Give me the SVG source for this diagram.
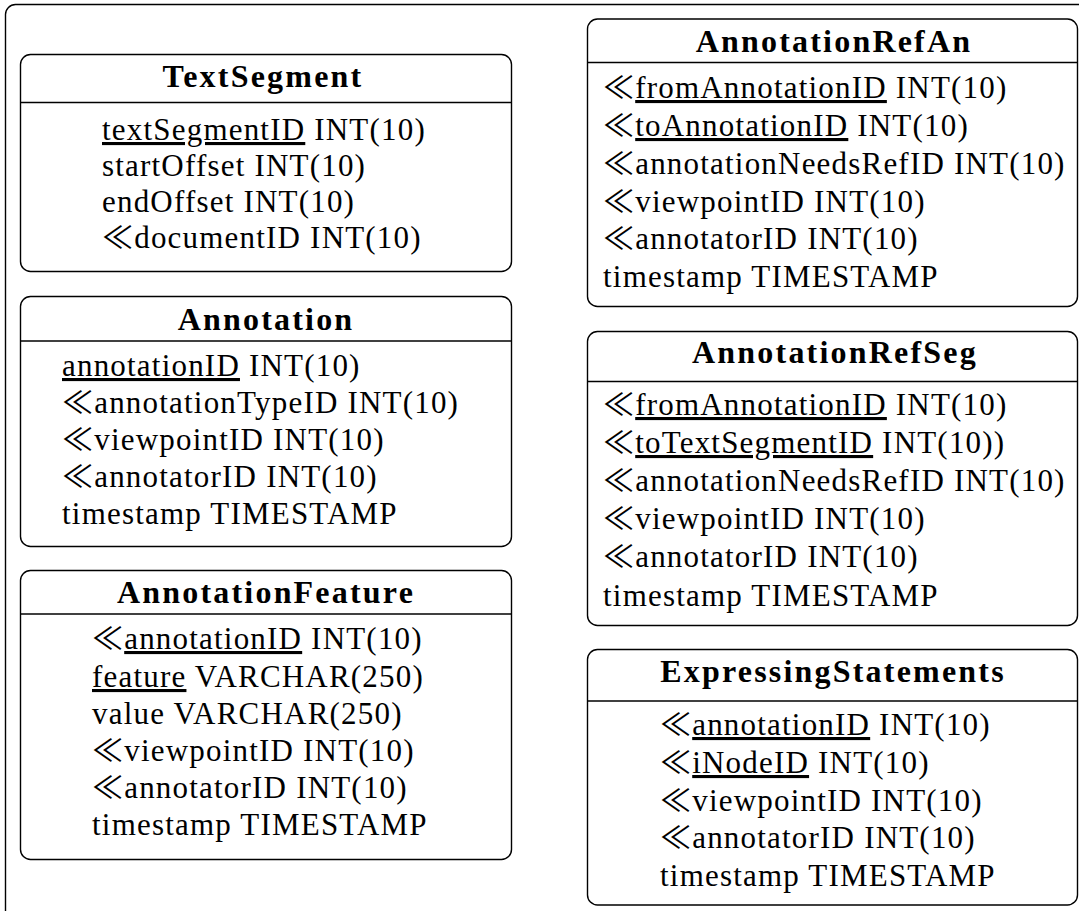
<svg xmlns="http://www.w3.org/2000/svg" width="1079" height="914" viewBox="0 0 1079 914">
  <style>
    .frame { fill: none; stroke: #000; stroke-width: 1.4; }
    .box { fill: #fff; stroke: #000; stroke-width: 1.4; }
    .rule { stroke: #000; stroke-width: 1.4; }
    .title { font-weight: bold; font-size: 32px; letter-spacing: 2.2px; text-anchor: middle; fill: #000; }
    .row { font-size: 31px; letter-spacing: 1.2px; fill: #000; }
    .key { text-decoration: underline; }
  </style>

  <rect width="1079" height="914" fill="#fff"/>

  <!-- enclosing frame (open to the right and bottom) -->
  <path class="frame" d="M5.5 911 V14.5 A10 10 0 0 1 15.5 4.5 H1079"/>

  <!-- serif text; the foreign-key mark falls back to the CJK face -->
  <g font-family="'Liberation Serif', 'Noto Sans CJK JP', 'DejaVu Serif', serif">
  <!-- left column -->
  <g id="TextSegment">
    <rect class="box" x="20.5" y="54.5" width="491" height="217" rx="10"/>
    <line class="rule" x1="20.5" y1="102.5" x2="511.5" y2="102.5"/>
    <text class="title" x="263" y="87">TextSegment</text>
    <text class="row" x="102" y="140"><tspan class="key">textSegmentID</tspan> INT(10)</text>
    <text class="row" x="102" y="176">startOffset INT(10)</text>
    <text class="row" x="102" y="212">endOffset INT(10)</text>
    <text class="row" x="102" y="248">≪documentID INT(10)</text>
  </g>

  <g id="Annotation">
    <rect class="box" x="20.5" y="296.5" width="491" height="250" rx="10"/>
    <line class="rule" x1="20.5" y1="341" x2="511.5" y2="341"/>
    <text class="title" x="266" y="330">Annotation</text>
    <text class="row" x="62" y="376"><tspan class="key">annotationID</tspan> INT(10)</text>
    <text class="row" x="62" y="413">≪annotationTypeID INT(10)</text>
    <text class="row" x="62" y="450">≪viewpointID INT(10)</text>
    <text class="row" x="62" y="487">≪annotatorID INT(10)</text>
    <text class="row" x="62" y="524">timestamp TIMESTAMP</text>
  </g>

  <g id="AnnotationFeature">
    <rect class="box" x="20.5" y="570.5" width="491" height="289" rx="10"/>
    <line class="rule" x1="20.5" y1="614" x2="511.5" y2="614"/>
    <text class="title" x="266" y="603">AnnotationFeature</text>
    <text class="row" x="92" y="649">≪<tspan class="key">annotationID</tspan> INT(10)</text>
    <text class="row" x="92" y="687"><tspan class="key">feature</tspan> VARCHAR(250)</text>
    <text class="row" x="92" y="724">value VARCHAR(250)</text>
    <text class="row" x="92" y="761">≪viewpointID INT(10)</text>
    <text class="row" x="92" y="798">≪annotatorID INT(10)</text>
    <text class="row" x="92" y="835">timestamp TIMESTAMP</text>
  </g>

  <!-- right column -->
  <g id="AnnotationRefAn">
    <rect class="box" x="587.5" y="19" width="490" height="287.5" rx="10"/>
    <line class="rule" x1="587.5" y1="62.5" x2="1077.5" y2="62.5"/>
    <text class="title" x="834" y="52">AnnotationRefAn</text>
    <text class="row" x="603" y="98">≪<tspan class="key">fromAnnotationID</tspan> INT(10)</text>
    <text class="row" x="603" y="136">≪<tspan class="key">toAnnotationID</tspan> INT(10)</text>
    <text class="row" x="603" y="174">≪annotationNeedsRefID INT(10)</text>
    <text class="row" x="603" y="211.5">≪viewpointID INT(10)</text>
    <text class="row" x="603" y="249">≪annotatorID INT(10)</text>
    <text class="row" x="603" y="286.5">timestamp TIMESTAMP</text>
  </g>

  <g id="AnnotationRefSeg">
    <rect class="box" x="587.5" y="331.5" width="490" height="294" rx="10"/>
    <line class="rule" x1="587.5" y1="381.5" x2="1077.5" y2="381.5"/>
    <text class="title" x="835" y="363">AnnotationRefSeg</text>
    <text class="row" x="603" y="415">≪<tspan class="key">fromAnnotationID</tspan> INT(10)</text>
    <text class="row" x="603" y="453">≪<tspan class="key">toTextSegmentID</tspan> INT(10))</text>
    <text class="row" x="603" y="491">≪annotationNeedsRefID INT(10)</text>
    <text class="row" x="603" y="529">≪viewpointID INT(10)</text>
    <text class="row" x="603" y="567">≪annotatorID INT(10)</text>
    <text class="row" x="603" y="606">timestamp TIMESTAMP</text>
  </g>

  <g id="ExpressingStatements">
    <rect class="box" x="587.5" y="649.5" width="490" height="255.5" rx="10"/>
    <line class="rule" x1="587.5" y1="701" x2="1077.5" y2="701"/>
    <text class="title" x="833" y="682">ExpressingStatements</text>
    <text class="row" x="660" y="735">≪<tspan class="key">annotationID</tspan> INT(10)</text>
    <text class="row" x="660" y="773">≪<tspan class="key">iNodeID</tspan> INT(10)</text>
    <text class="row" x="660" y="811">≪viewpointID INT(10)</text>
    <text class="row" x="660" y="848">≪annotatorID INT(10)</text>
    <text class="row" x="660" y="886">timestamp TIMESTAMP</text>
  </g>
  </g>

  <!-- no connectors are drawn between the tables -->
  <g id="connectors"/>
</svg>
